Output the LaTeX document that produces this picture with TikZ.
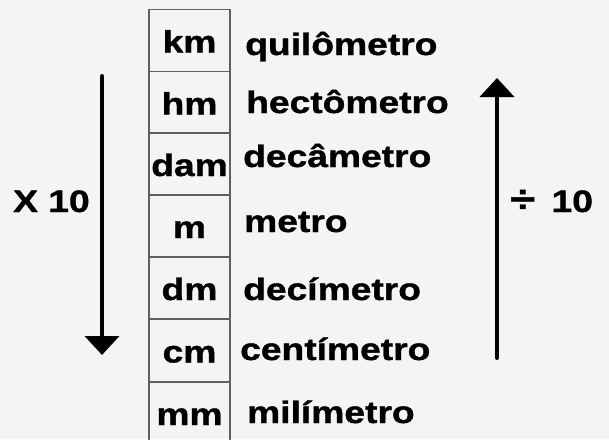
\documentclass[tikz,border=0pt]{standalone}
\usepackage{fontspec}
\setmainfont[FakeStretch=1.2,BoldFeatures={FakeBold=1.2}]{Liberation Sans}
\usetikzlibrary{arrows.meta}
\definecolor{fundo}{RGB}{244,244,244}
\definecolor{borda}{RGB}{95,95,95}
\tikzset{
	unidade/.style={draw=borda,line width=1.5pt,minimum width=81pt,minimum height=62pt,inner sep=0pt,text height=24pt,text depth=0pt,font=\bfseries\fontsize{31}{36}\selectfont},
	nome/.style={anchor=base west,inner sep=0pt,font=\bfseries\fontsize{31}{36}\selectfont},
	seta/.style={line width=4pt,-{Triangle[width=34pt,length=19pt]}}
}
\begin{document}
\begin{tikzpicture}[line cap=round,line join=round,x=1pt,y=-1pt]
		\fill[fundo] (0,0) rectangle (609,439);
		\useasboundingbox (0,0) rectangle (609,439);
		\clip (0,0) rectangle (609,439);
		% coluna das unidades
		\node[unidade] (km) at (189.5,40.5) {km};
		\node[unidade] (hm) at (189.5,102.5) {hm};
		\node[unidade] (dam) at (189.5,164) {dam};
		\node[unidade] (m) at (189.5,226) {m};
		\node[unidade] (dm) at (189.5,288) {dm};
		\node[unidade] (cm) at (189.5,350.5) {cm};
		\node[unidade] (mm) at (189.5,413) {mm};
		% nomes
		\node[nome] (quilo) at (245,55) {quilômetro};
		\node[nome] (hecto) at (246,113) {hectômetro};
		\node[nome] (deca) at (243,167) {decâmetro};
		\node[nome] (metro) at (244,232) {metro};
		\node[nome] (deci) at (243,300) {decímetro};
		\node[nome] (centi) at (240,360) {centímetro};
		\node[nome] (mili) at (247,423) {milímetro};
		% setas
		\coordinate (desceini) at (102,76);
		\coordinate (descefim) at (102,355);
		\coordinate (sobeini) at (497,358);
		\coordinate (sobefim) at (497,78);
		\draw[seta] (desceini) -- (descefim);
		\draw[seta] (sobeini) -- (sobefim);
		\node[nome] (vezes) at (13,212) {X 10};
		\node[nome] (divide) at (510,212) {{\fontsize{38}{40}\selectfont ÷}\hspace{6pt} 10};
\end{tikzpicture}
\end{document}
